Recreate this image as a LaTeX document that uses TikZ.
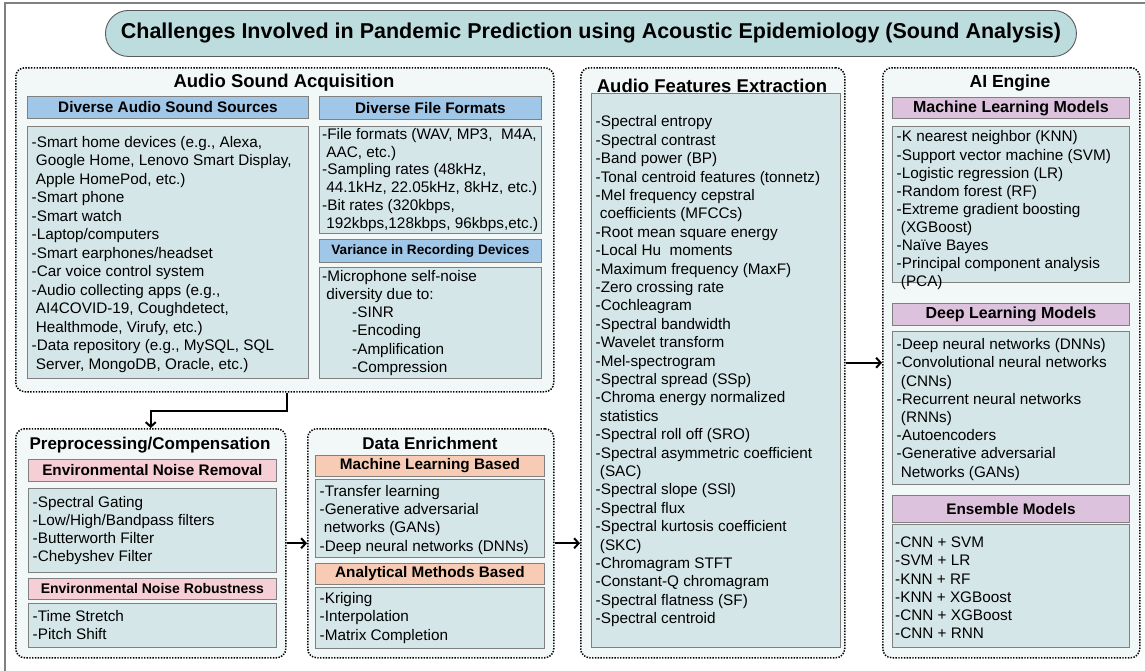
\documentclass[tikz,border=0pt]{standalone}
\usepackage{fontspec}
\setmainfont{Liberation Sans}
\usetikzlibrary{arrows.meta}

\definecolor{pillfill}{RGB}{189,220,222}
\definecolor{pilldraw}{RGB}{90,90,90}
\definecolor{grpfill}{RGB}{242,248,248}
\definecolor{boxfill}{RGB}{213,230,232}
\definecolor{boxdraw}{RGB}{128,128,128}
\definecolor{hblue}{RGB}{160,198,232}
\definecolor{hpink}{RGB}{246,206,214}
\definecolor{hsalmon}{RGB}{248,203,180}
\definecolor{hmauve}{RGB}{220,194,220}
\definecolor{framegray}{RGB}{128,128,128}

% indent for wrapped continuation lines
\newcommand\cind{\hspace*{4.2pt}}
\newcommand\subind{\hspace*{30pt}}

\tikzset{
  grp/.style={draw=black, line width=1.5pt, dash pattern=on 1.4pt off 1.4pt,
    rounded corners=9pt, fill=grpfill, anchor=north west, inner sep=0pt},
  gtitle/.style={font=\fontsize{18.5}{20}\selectfont\bfseries, inner sep=0pt},
  hdr/.style={draw=boxdraw, line width=0.8pt, anchor=north west, inner sep=0pt,
    font=\fontsize{15.3}{17}\selectfont\bfseries},
  body/.style={draw=boxdraw, fill=boxfill, line width=0.8pt, anchor=north west,
    inner sep=0pt},
  btext/.style={anchor=west, inner xsep=4.5pt, inner ysep=0pt, align=left,
    font=\fontsize{15.3}{18.2}\selectfont},
  arr/.style={line width=2pt, -{Straight Barb[length=4.5pt,width=10pt]}},
}

% content box: [text options]{name}{x}{y}{width}{height}{lines}
\newcommand\bbox[7][]{%
  \node[body, minimum width=#5pt, minimum height=#6pt] (#2) at (#3,#4) {};
  \node[btext, #1] (#2-t) at (#2.west) {#7};
}

\begin{document}
\begin{tikzpicture}[x=1pt,y=-1pt]
\useasboundingbox (0,0) rectangle (1145,670);

% page frame (top and left edges)
\draw[framegray, line width=1.6pt] (5,672) -- (5,3) -- (1147,3);

% title banner
\node[draw=pilldraw, fill=pillfill, line width=0.9pt, rounded corners=23pt,
  anchor=north west, minimum width=971pt, minimum height=46pt, inner sep=0pt,
  font=\fontsize{21.5}{24}\selectfont\bfseries] (title) at (105,10)
  {Challenges Involved in Pandemic Prediction using Acoustic Epidemiology (Sound Analysis)};

% ---------- group frames ----------
\node[grp, minimum width=538pt, minimum height=324pt] (grpA) at (15,67) {};
\node[grp, minimum width=270pt, minimum height=229pt] (grpB) at (15,428) {};
\node[grp, minimum width=246pt, minimum height=229pt] (grpC) at (307,428) {};
\node[grp, minimum width=264pt, minimum height=590pt] (grpD) at (580,67) {};
\node[grp, minimum width=257pt, minimum height=590pt] (grpE) at (882,67) {};

% ---------- Audio Sound Acquisition ----------
\node[gtitle] (tA) at (284,83) {Audio Sound Acquisition};
\node[hdr, fill=hblue, minimum width=281pt, minimum height=22pt] (hA1) at (27,96) {Diverse Audio Sound Sources};
\bbox[font=\fontsize{15.3}{18.5}\selectfont, yshift=-2pt]{bA1}{27}{126}{281}{252}{%
-Smart home devices (e.g., Alexa,\\
\cind Google Home, Lenovo Smart Display,\\
\cind Apple HomePod, etc.)\\
-Smart phone\\
-Smart watch\\
-Laptop/computers\\
-Smart earphones/headset\\
-Car voice control system\\
-Audio collecting apps (e.g.,\\
\cind AI4COVID-19, Coughdetect,\\
\cind Healthmode, Virufy, etc.)\\
-Data repository (e.g., MySQL, SQL\\
\cind Server, MongoDB, Oracle, etc.)}

\node[hdr, fill=hblue, minimum width=222pt, minimum height=23pt] (hA2) at (319,96) {Diverse File Formats};
\bbox[font=\fontsize{15.3}{17.9}\selectfont, inner xsep=3pt]{bA2}{319}{126}{222}{107}{%
-File formats (WAV, MP3,\ \ M4A,\\
\cind AAC, etc.)\\
-Sampling rates (48kHz,\\
\cind 44.1kHz, 22.05kHz, 8kHz, etc.)\\
-Bit rates (320kbps,\\
\cind 192kbps,128kbps, 96kbps,etc.)}

\node[hdr, fill=hblue, minimum width=222pt, minimum height=23pt,
  font=\fontsize{13.6}{16}\selectfont\bfseries] (hA3) at (319,239) {Variance in Recording Devices};
\bbox[inner xsep=3pt]{bA3}{319}{267}{222}{111}{%
-Microphone self-noise\\
\cind diversity due to:\\
\subind-SINR\\
\subind-Encoding\\
\subind-Amplification\\
\subind-Compression}

% ---------- Preprocessing/Compensation ----------
\node[gtitle, font=\fontsize{17}{19}\selectfont\bfseries] (tB) at (150,445) {Preprocessing/Compensation};
\node[hdr, fill=hpink, minimum width=248pt, minimum height=22pt] (hB1) at (28,459) {Environmental Noise Removal};
\bbox{bB1}{28}{488}{248}{84}{%
-Spectral Gating\\
-Low/High/Bandpass filters\\
-Butterworth Filter\\
-Chebyshev Filter}
\node[hdr, fill=hpink, minimum width=248pt, minimum height=21pt,
  font=\fontsize{14}{16}\selectfont\bfseries] (hB2) at (28,578) {Environmental Noise Robustness};
\bbox{bB2}{28}{603}{248}{44}{%
-Time Stretch\\
-Pitch Shift}

% ---------- Data Enrichment ----------
\node[gtitle, font=\fontsize{17}{19}\selectfont\bfseries] (tC) at (430,443) {Data Enrichment};
\node[hdr, fill=hsalmon, minimum width=229pt, minimum height=21pt] (hC1) at (315,455) {Machine Learning Based};
\bbox[yshift=-1.5pt]{bC1}{315}{479}{229}{78}{%
-Transfer learning\\
-Generative adversarial\\
\cind networks (GANs)\\
-Deep neural networks (DNNs)}
\node[hdr, fill=hsalmon, minimum width=229pt, minimum height=21pt] (hC2) at (315,563) {Analytical Methods Based};
\bbox{bC2}{315}{587}{229}{61}{%
-Kriging\\
-Interpolation\\
-Matrix Completion}

% ---------- Audio Features Extraction ----------
\node[gtitle] (tD) at (712,86) {Audio Features Extraction};
\bbox[font=\fontsize{15.3}{18.4}\selectfont, yshift=-1pt]{bD}{591}{93}{249}{554}{%
-Spectral entropy\\
-Spectral contrast\\
-Band power (BP)\\
-Tonal centroid features (tonnetz)\\
-Mel frequency cepstral\\
\cind coefficients (MFCCs)\\
-Root mean square energy\\
-Local Hu\ \ moments\\
-Maximum frequency (MaxF)\\
-Zero crossing rate\\
-Cochleagram\\
-Spectral bandwidth\\
-Wavelet transform\\
-Mel-spectrogram\\
-Spectral spread (SSp)\\
-Chroma energy normalized\\
\cind statistics\\
-Spectral roll off (SRO)\\
-Spectral asymmetric coefficient\\
\cind(SAC)\\
-Spectral slope (SSl)\\
-Spectral flux\\
-Spectral kurtosis coefficient\\
\cind(SKC)\\
-Chromagram STFT\\
-Constant-Q chromagram\\
-Spectral flatness (SF)\\
-Spectral centroid}

% ---------- AI Engine ----------
\node[gtitle, font=\fontsize{17.5}{19}\selectfont\bfseries] (tE) at (1010,83) {AI Engine};
\node[hdr, fill=hmauve, minimum width=237pt, minimum height=21pt,
  font=\fontsize{16}{18}\selectfont\bfseries] (hE1) at (892,97) {Machine Learning Models};
\bbox[font=\fontsize{15.3}{18.1}\selectfont, yshift=-6pt]{bE1}{892}{126}{237}{156}{%
-K nearest neighbor (KNN)\\
-Support vector machine (SVM)\\
-Logistic regression (LR)\\
-Random forest (RF)\\
-Extreme gradient boosting\\
\cind(XGBoost)\\
-Naïve Bayes\\
-Principal component analysis\\
\cind(PCA)}
\node[hdr, fill=hmauve, minimum width=237pt, minimum height=22pt,
  font=\fontsize{16}{18}\selectfont\bfseries] (hE2) at (892,303) {Deep Learning Models};
\bbox[yshift=-1.5pt]{bE2}{892}{331}{237}{153}{%
-Deep neural networks (DNNs)\\
-Convolutional neural networks\\
\cind(CNNs)\\
-Recurrent neural networks\\
\cind(RNNs)\\
-Autoencoders\\
-Generative adversarial\\
\cind Networks (GANs)}
\node[hdr, fill=hmauve, minimum width=237pt, minimum height=27pt] (hE3) at (892,495) {Ensemble Models};
\bbox[yshift=-2pt, inner xsep=3pt]{bE3}{892}{524}{237}{123}{%
-CNN + SVM\\
-SVM + LR\\
-KNN + RF\\
-KNN + XGBoost\\
-CNN + XGBoost\\
-CNN + RNN}

% ---------- flow connectors ----------
\draw[arr] (grpB.north east |- grpA.south) -- ++(0,18) -| (grpB.north);
\draw[arr] (grpB.east) -- (grpC.west);
\draw[arr] (grpC.east) -- (grpC.east -| grpD.west);
\draw[arr] (grpD.east) -- (grpE.west);
\end{tikzpicture}
\end{document}
